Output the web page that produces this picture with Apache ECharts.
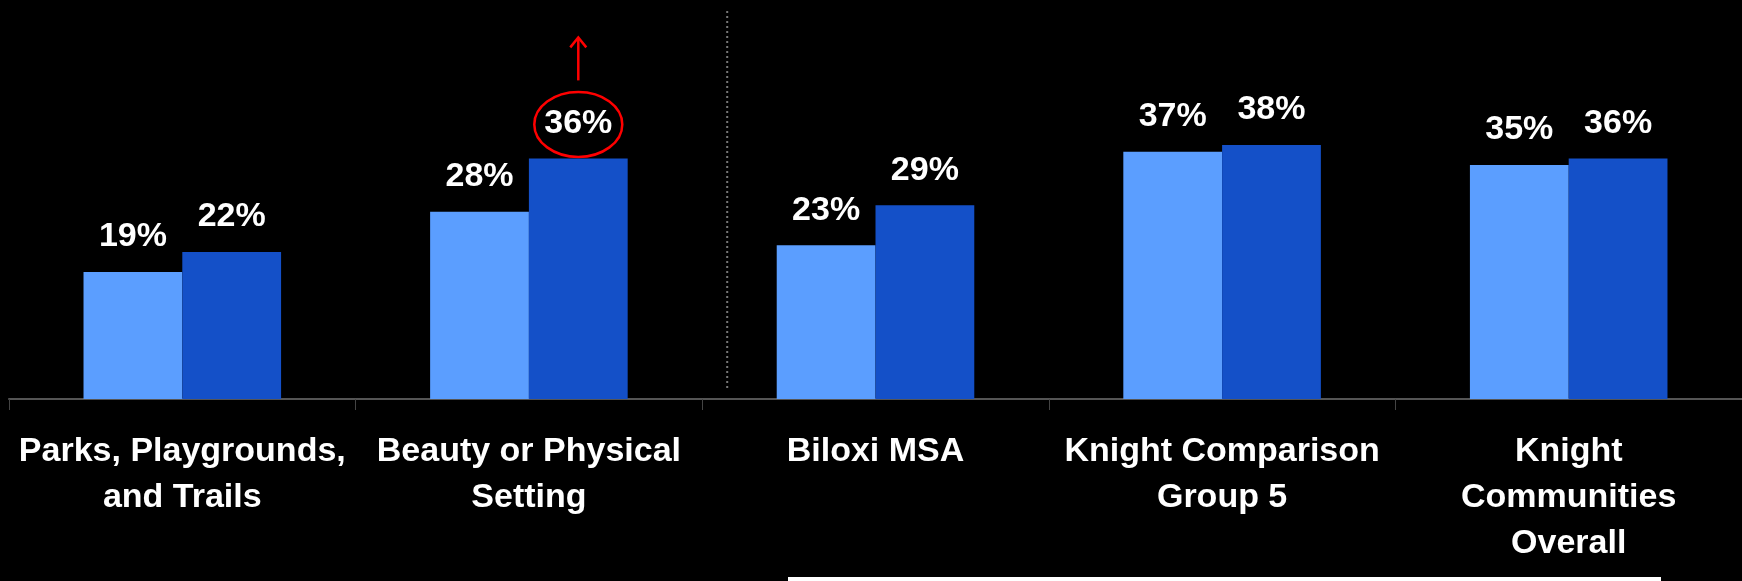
<!DOCTYPE html>
<html>
<head>
<meta charset="utf-8">
<script src="https://cdn.jsdelivr.net/npm/echarts@6/dist/echarts.min.js"></script>
<style>
html,body{margin:0;padding:0;background:#000;}
#c{width:1742px;height:581px;}
</style>
</head>
<body>
<div id="c"></div>
<script>
var categories = [
  'Parks, Playgrounds,\nand Trails',
  'Beauty or Physical\nSetting',
  'Biloxi MSA',
  'Knight Comparison\nGroup 5',
  'Knight\nCommunities\nOverall'
];
var seriesA = [19, 28, 23, 37, 35];
var seriesB = [22, 36, 29, 38, 36];

var chart = echarts.init(document.getElementById('c'), null, {renderer: 'canvas'});
var FONT = '"Liberation Sans", Arial, sans-serif';
var labelStyle = {
  show: true, position: 'top', distance: 18,
  color: '#fff', fontSize: 34, fontWeight: 'bold', fontFamily: FONT,
  formatter: '{c}%'
};
chart.setOption({
  backgroundColor: '#000',
  animation: false,
  grid: {left: 9, right: 0, top: 0, bottom: 182},
  xAxis: {
    type: 'category',
    data: categories,
    axisLine: {lineStyle: {color: '#555', width: 2}},
    axisTick: {show: true, length: 11, lineStyle: {color: '#444', width: 1}},
    axisLabel: {
      interval: 0, margin: 30, color: '#fff', fontSize: 34, fontWeight: 'bold',
      fontFamily: FONT, lineHeight: 46
    }
  },
  yAxis: {type: 'value', min: 0, max: 59.7, show: false},
  series: [
    {type: 'bar', data: seriesA, barGap: '0%', barCategoryGap: '43%',
     itemStyle: {color: '#5B9EFF'}, label: labelStyle},
    {type: 'bar', data: seriesB, barGap: '0%', barCategoryGap: '43%',
     itemStyle: {color: '#1450C8'}, label: labelStyle}
  ]
});

// annotations positioned from the axes
var x0 = chart.convertToPixel({xAxisIndex: 0}, 0);
var x1 = chart.convertToPixel({xAxisIndex: 0}, 1);
var catW = x1 - x0;
var barW = catW * (1 - 0.43) / 2;
var darkX = x1 + barW / 2;
var topY = chart.convertToPixel({yAxisIndex: 0}, seriesB[1]);
var labelCY = topY - 38;
var boundaryX = x1 + catW / 2;
var axisY = chart.convertToPixel({yAxisIndex: 0}, 0);

chart.setOption({
  graphic: [
    {type: 'ellipse', shape: {cx: darkX, cy: labelCY + 4, rx: 44, ry: 32.5},
     style: {fill: 'none', stroke: '#ff0000', lineWidth: 2.5}},
    {type: 'line', shape: {x1: darkX, y1: labelCY - 40, x2: darkX, y2: labelCY - 82},
     style: {stroke: '#ff0000', lineWidth: 2.5}},
    {type: 'polyline', shape: {points: [[darkX - 8, labelCY - 73], [darkX, labelCY - 83], [darkX + 8, labelCY - 73]]},
     style: {stroke: '#ff0000', lineWidth: 2.5, fill: 'none'}},
    {type: 'line', shape: {x1: boundaryX + 25, y1: 11, x2: boundaryX + 25, y2: axisY - 8},
     style: {stroke: '#777', lineWidth: 2, lineDash: [2, 3]}},
    {type: 'rect', shape: {x: 788, y: 577, width: 873, height: 6},
     style: {fill: '#fff'}}
  ]
});
</script>
</body>
</html>
